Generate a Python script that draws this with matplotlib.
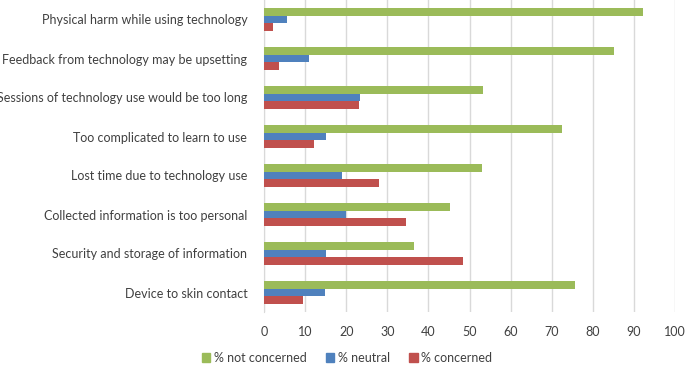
import numpy as np
import matplotlib.pyplot as plt
from matplotlib.patches import Patch

plt.rcParams['font.family'] = ['Lato', 'DejaVu Sans']

categories = [
    'Physical harm while using technology',
    'Feedback from technology may be upsetting',
    'Sessions of technology use would be too long',
    'Too complicated to learn to use',
    'Lost time due to technology use',
    'Collected information is too personal',
    'Security and storage of information',
    'Device to skin contact',
]
not_concerned = [92.1, 85.2, 53.2, 72.6, 53.0, 45.3, 36.4, 75.6]
neutral = [5.5, 11.0, 23.4, 15.1, 18.9, 20.0, 15.1, 14.8]
concerned = [2.1, 3.6, 23.1, 12.1, 27.9, 34.6, 48.3, 9.6]

series_names = ['% not concerned', '% neutral', '% concerned']
colors = ['#9BBB59', '#4F81BD', '#C0504D']

fig = plt.figure(figsize=(6.85, 3.66), dpi=100)
ax = fig.add_axes([264 / 685, 1 - 312 / 366, 411 / 685, 312 / 366])

y = np.arange(len(categories))
h = 0.2
for i, (vals, col) in enumerate(zip([not_concerned, neutral, concerned], colors)):
    ax.barh(y + (i - 1) * h, vals, height=h, color=col, zorder=3)

ax.set_ylim(len(categories) - 0.5, -0.5)
ax.set_xlim(0, 100)
ax.set_xticks(np.arange(0, 101, 10))
ax.set_yticks(y)
ax.set_yticklabels(categories)
ax.tick_params(axis='both', length=0, labelsize=9, colors='#404040')
ax.tick_params(axis='x', pad=10)
ax.tick_params(axis='y', pad=12)
ax.grid(axis='x', color='#D9D9D9', linewidth=1, zorder=0)
for s in ['top', 'right', 'bottom']:
    ax.spines[s].set_visible(False)
ax.spines['left'].set_color('#D9D9D9')

handles = [Patch(color=c, label=n) for c, n in zip(colors, series_names)]
fig.legend(handles=handles, loc='center', bbox_to_anchor=(347 / 685, 1 - 358 / 366),
           ncol=3, frameon=False, fontsize=9, handlelength=0.7, handleheight=0.7,
           handletextpad=0.3, columnspacing=1.5, labelcolor='#404040')

fig.savefig('out.png', dpi=100)
